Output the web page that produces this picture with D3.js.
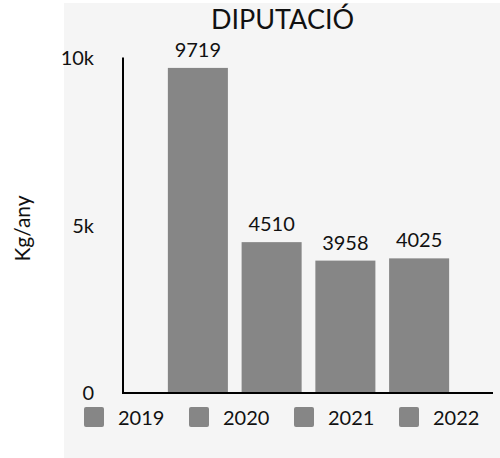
<!DOCTYPE html>
<html><head><meta charset="utf-8">
<script src="https://cdn.jsdelivr.net/npm/d3@7"></script>
<style>body{margin:0;background:#fff}svg{display:block}text{font-family:Lato,sans-serif;fill:#111}</style>
</head><body><svg width="500" height="458"></svg>
<script>
const categories = ["2019","2020","2021","2022"];
const values = [9719,4510,3958,4025];
const yTicks = [0,5000,10000];
const yTickLabels = ["0","5k","10k"];
const title = "DIPUTACIÓ";
const yLabel = "Kg/any";

const svg = d3.select("svg");
svg.append("rect").attr("x",64).attr("y",3).attr("width",436).attr("height",455).attr("fill","#f5f5f5");

const y = d3.scaleLinear().domain([0,10000]).range([393,58.5]);
const x = d3.scaleBand().domain(categories).range([161,456]).paddingInner(0.186).paddingOuter(0.093);

svg.selectAll(".bar").data(values).join("rect")
  .attr("x",(d,i)=>x(categories[i])).attr("width",x.bandwidth())
  .attr("y",d=>y(d)).attr("height",d=>y(0)-y(d)).attr("fill","#868686");

svg.selectAll(".vl").data(values).join("text")
  .attr("x",(d,i)=>x(categories[i])+x.bandwidth()/2).attr("y",d=>y(d)-11)
  .attr("text-anchor","middle").attr("font-size",20).text(d=>d);

const yAxis = svg.append("g").attr("transform","translate(123,0)")
  .call(d3.axisLeft(y).tickValues(yTicks).tickSize(0).tickPadding(29).tickFormat((d,i)=>yTickLabels[i]));
yAxis.select(".domain").remove();
yAxis.selectAll("text").attr("font-size",20).attr("font-family","Lato").attr("fill","#111");

svg.append("line").attr("x1",123).attr("x2",123).attr("y1",y(10000)-1).attr("y2",y(0)+1).attr("stroke","#000").attr("stroke-width",2);
svg.append("line").attr("x1",122).attr("x2",493).attr("y1",y(0)).attr("y2",y(0)).attr("stroke","#000").attr("stroke-width",2);

svg.append("text").attr("x",282.5).attr("y",28.5).attr("text-anchor","middle").attr("font-size",27).text(title);
svg.append("text").attr("transform","translate(30,228.5) rotate(-90)").attr("text-anchor","middle").attr("font-size",21).text(yLabel);

const lg = svg.selectAll(".lg").data(categories).join("g").attr("transform",(d,i)=>`translate(${84+i*105},407)`);
lg.append("rect").attr("width",20).attr("height",20).attr("rx",2).attr("fill","#868686");
lg.append("text").attr("x",34).attr("y",17.5).attr("font-size",20).text(d=>d);
</script></body></html>
